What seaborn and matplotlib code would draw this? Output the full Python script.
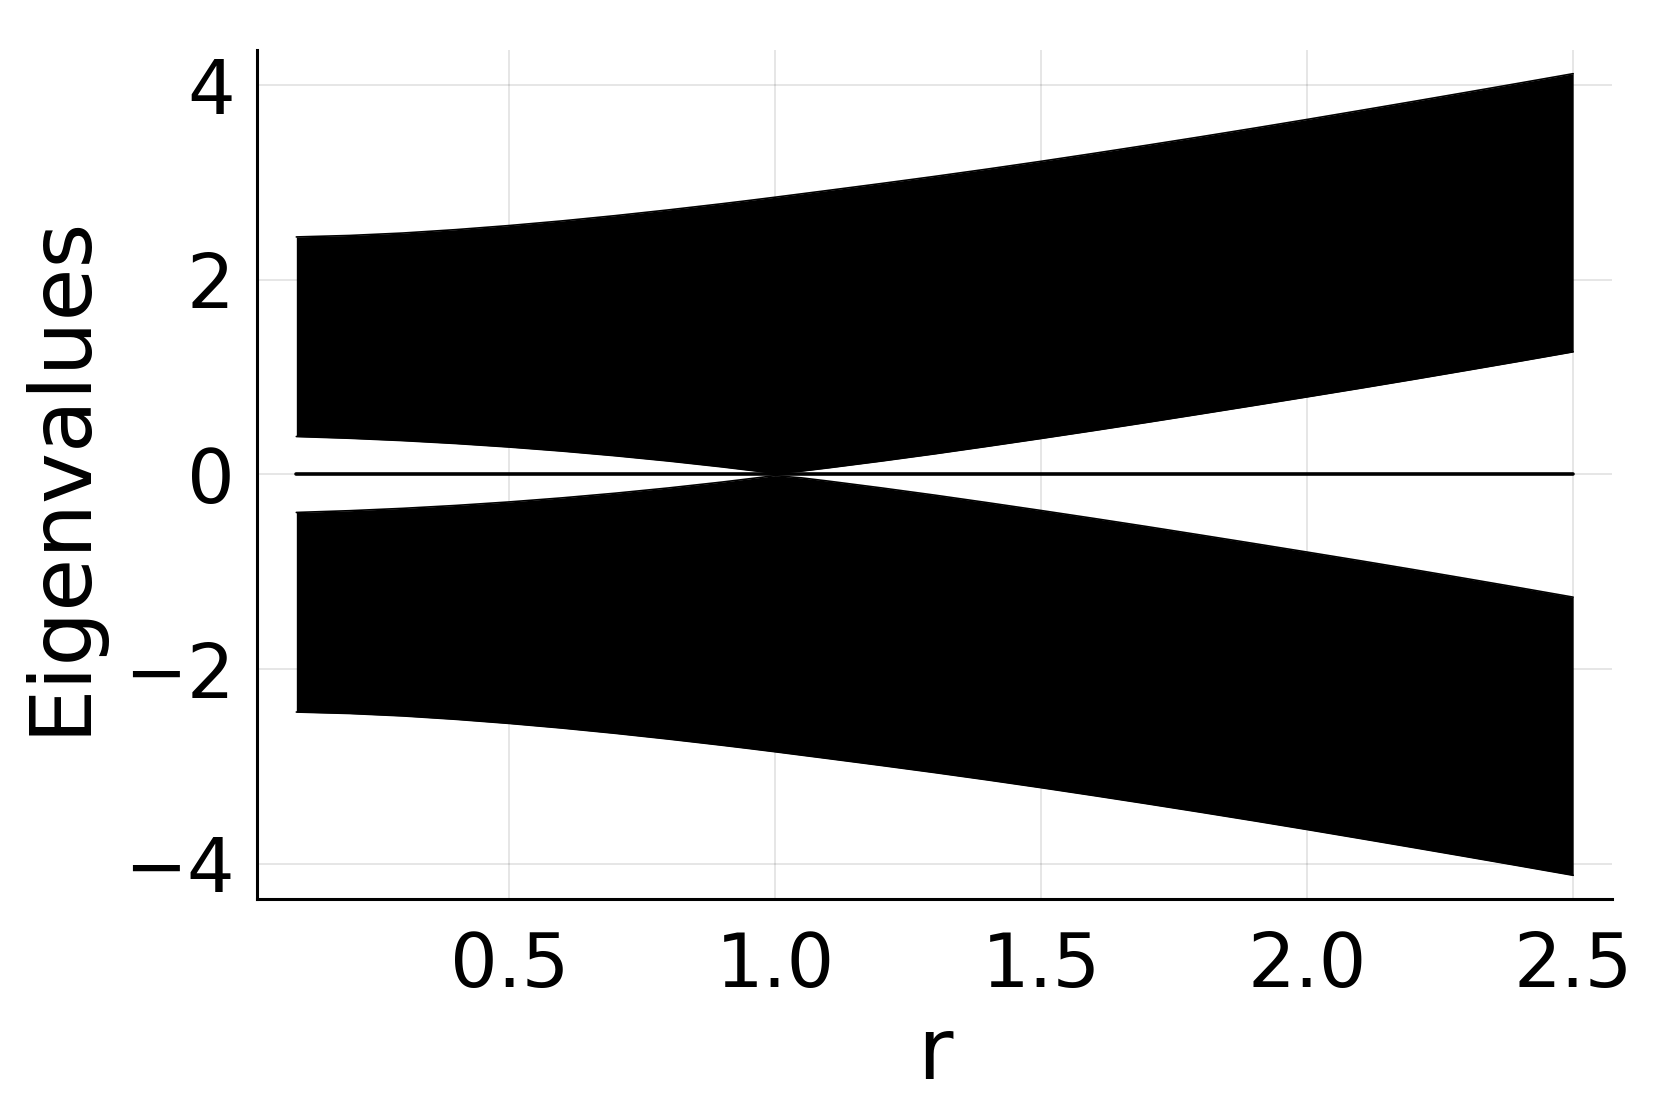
import numpy as np
import pandas as pd
import seaborn as sns
import matplotlib
matplotlib.use("Agg")
import matplotlib.pyplot as plt

# hopping ratio r and the edges of the eigenvalue band
r_vals = [0.1, 0.2, 0.3, 0.4, 0.5, 0.6, 0.7, 0.8, 0.9, 0.95, 1.0, 1.05, 1.1, 1.2, 1.3,
          1.4, 1.5, 1.6, 1.7, 1.8, 1.9, 2.0, 2.1, 2.2, 2.3, 2.4, 2.5]
band_top = [2.440, 2.455, 2.480, 2.515, 2.557, 2.605, 2.659, 2.718, 2.781, 2.814, 2.848,
            2.883, 2.918, 2.989, 3.062, 3.138, 3.217, 3.299, 3.383, 3.469, 3.557, 3.647,
            3.739, 3.832, 3.926, 4.021, 4.117]
band_gap = [0.390, 0.372, 0.348, 0.318, 0.282, 0.240, 0.192, 0.138, 0.078, 0.045, 0.012,
            0.035, 0.068, 0.138, 0.212, 0.290, 0.370, 0.452, 0.536, 0.622, 0.709, 0.797,
            0.886, 0.977, 1.070, 1.164, 1.260]
zero_mode = [0.0] * len(r_vals)

x_ticks = [0.5, 1.0, 1.5, 2.0, 2.5]
y_ticks = [-4, -2, 0, 2, 4]

df = pd.DataFrame({"r": r_vals, "top": band_top, "gap": band_gap, "zero": zero_mode})

sns.set_theme(style="white")
plt.rcParams['font.family'] = ['DejaVu Sans']

fig = plt.figure(figsize=(16.61, 11.09), dpi=100)
ax = fig.add_axes([0.1547, 0.1894, 0.8158, 0.7655])

# upper and lower bands (symmetric)
ax.fill_between(df["r"], df["gap"], df["top"], color="black", lw=0, zorder=3)
ax.fill_between(df["r"], -df["gap"], -df["top"], color="black", lw=0, zorder=3)
for col, sign in [("top", 1), ("gap", 1), ("top", -1), ("gap", -1)]:
    sns.lineplot(x=df["r"], y=sign * df[col], color="black", lw=1.2, ax=ax, zorder=4)

# zero modes
sns.lineplot(data=df, x="r", y="zero", color="black", lw=2.6, ax=ax, zorder=5)

ax.set_xlim(0.026, 2.573)
ax.set_ylim(-4.36, 4.36)
ax.set_xticks(x_ticks)
ax.set_xticklabels([f"{t:.1f}" for t in x_ticks])
ax.set_yticks(y_ticks)
ax.set_yticklabels([f"{t}".replace("-", "\u2212") for t in y_ticks])

ax.grid(True, color="black", alpha=0.1, lw=1.4)
for s in ["top", "right"]:
    ax.spines[s].set_visible(False)
for s in ["left", "bottom"]:
    ax.spines[s].set_color("black")
    ax.spines[s].set_linewidth(2.2)

ax.tick_params(axis="both", direction="in", length=14, width=2.2, color="black",
               labelsize=54, labelcolor="black")
ax.tick_params(axis="x", pad=22)
ax.tick_params(axis="y", pad=16)

ax.set_xlabel("r", fontsize=62, color="black", labelpad=8)
ax.set_ylabel("Eigenvalues", fontsize=62, color="black", labelpad=16)

fig.savefig("out.png", dpi=100, facecolor="white")
